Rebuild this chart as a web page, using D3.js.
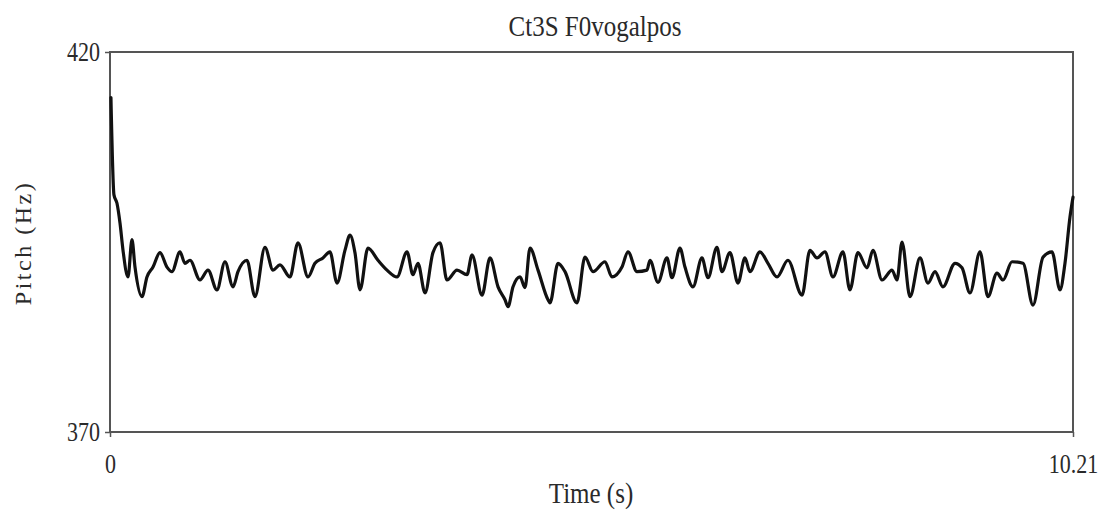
<!DOCTYPE html>
<html>
<head>
<meta charset="utf-8">
<script src="https://cdn.jsdelivr.net/npm/d3@7"></script>
<style>
html,body{margin:0;padding:0;background:#fff;}
svg{display:block;}
text{font-family:"Liberation Serif","Times New Roman",serif;fill:#2a2a2a;}
</style>
</head>
<body>
<svg id="chart" width="1114" height="512"></svg>
<script>
const title = "Ct3S F0vogalpos";
const xLabel = "Time (s)";
const yLabel = "Pitch (Hz)";
const xDomain = [0, 10.21];
const yDomain = [370, 420];
const xTickLabels = ["0", "10.21"];
const yTickLabels = ["370", "420"];

const times = [0.01,0.042,0.074,0.106,0.138,0.191,0.233,0.265,0.339,0.392,0.456,0.530,0.604,0.657,0.742,0.795,0.848,0.954,1.039,1.134,1.219,1.304,1.357,1.452,1.537,1.643,1.728,1.802,1.908,1.993,2.099,2.173,2.258,2.332,2.407,2.491,2.545,2.597,2.651,2.735,2.841,2.937,3.043,3.149,3.212,3.265,3.340,3.424,3.499,3.573,3.679,3.785,3.838,3.944,4.029,4.114,4.188,4.220,4.273,4.347,4.400,4.453,4.538,4.644,4.665,4.750,4.824,4.951,5.036,5.121,5.248,5.322,5.428,5.492,5.587,5.693,5.725,5.810,5.905,5.958,6.043,6.096,6.181,6.276,6.340,6.435,6.488,6.573,6.658,6.732,6.785,6.891,6.976,7.072,7.188,7.337,7.421,7.496,7.580,7.665,7.771,7.845,7.930,8.026,8.089,8.185,8.291,8.344,8.397,8.482,8.588,8.672,8.747,8.831,8.959,9.033,9.118,9.224,9.308,9.404,9.468,9.563,9.680,9.786,9.892,9.987,10.072,10.125,10.178,10.21];
const pitch = [414.0,401.2,400.1,397.5,393.9,390.4,395.3,391.7,387.8,390.4,391.7,393.6,391.7,391.1,393.7,392.2,392.6,390.0,391.3,388.7,392.4,389.1,391.1,392.6,387.8,394.3,391.3,392.0,390.4,394.9,390.4,392.2,392.9,393.7,389.6,393.9,395.9,393.6,388.7,394.2,392.6,391.3,390.4,393.7,390.7,392.2,388.3,393.6,394.9,390.0,391.3,390.7,393.3,388.0,392.9,389.1,387.4,386.5,389.1,390.4,389.0,394.2,391.3,387.4,387.0,392.2,391.1,387.0,393.0,391.1,392.4,390.4,391.7,393.7,391.1,391.3,392.6,389.7,392.9,390.3,394.2,391.7,389.1,392.9,390.3,394.3,391.1,393.6,389.6,392.9,391.1,393.7,392.2,390.4,392.6,388.0,393.9,392.9,393.7,390.4,393.7,388.7,393.6,391.6,393.9,390.0,391.3,390.0,395.0,387.8,392.9,389.6,391.1,389.1,392.2,391.6,388.3,393.7,387.8,390.9,390.0,392.4,392.2,386.7,393.0,393.7,388.7,392.2,398.3,400.9];

const svg = d3.select("#chart");
const m = {left:110, right:1073, top:52, bottom:432};
const x = d3.scaleLinear().domain(xDomain).range([m.left, m.right]);
const y = d3.scaleLinear().domain(yDomain).range([m.bottom, m.top]);

const axisColor = "#555";
svg.append("rect").attr("x", m.left).attr("y", m.top)
  .attr("width", m.right - m.left).attr("height", m.bottom - m.top)
  .attr("fill", "none").attr("stroke", axisColor).attr("stroke-width", 2);

// y axis
const yAxis = d3.axisLeft(y).tickValues(yTickLabels.map(Number)).tickSize(5).tickPadding(5)
  .tickFormat((d,i)=>yTickLabels[i]);
const gy = svg.append("g").attr("transform", `translate(${m.left},0)`).call(yAxis);
gy.select(".domain").remove();
gy.selectAll("line").attr("stroke", axisColor).attr("stroke-width", 1.5);
gy.selectAll("text").style("font-size", "22px").attr("fill", "#2a2a2a")
  .style("font-family", "'Liberation Serif', serif")
  .attr("transform", "scale(1,1.25)");

// x axis
const xAxis = d3.axisBottom(x).tickValues(xTickLabels.map(Number)).tickSize(5).tickPadding(12)
  .tickFormat((d,i)=>xTickLabels[i]);
const gx = svg.append("g").attr("transform", `translate(0,${m.bottom})`).call(xAxis);
gx.select(".domain").remove();
gx.selectAll("line").attr("stroke", axisColor).attr("stroke-width", 1.5);
gx.selectAll("text").style("font-size", "22px").attr("fill", "#2a2a2a")
  .style("font-family", "'Liberation Serif', serif")
  .attr("y", 0).attr("dy", null)
  .attr("transform", "translate(0,41) scale(1,1.25)");

// line
const data = times.map((t,i)=>({t, p: pitch[i]}));
const line = d3.line().x(d=>x(d.t)).y(d=>y(d.p)).curve(d3.curveMonotoneX);
svg.append("path").datum(data).attr("d", line)
  .attr("fill", "none").attr("stroke", "#111").attr("stroke-width", 3.2)
  .attr("stroke-linejoin", "round").attr("stroke-linecap", "round");

// title and labels
svg.append("text").attr("transform", "translate(595,36) scale(1,1.15)").attr("text-anchor", "middle")
  .style("font-size", "25px").text(title);
svg.append("text").attr("transform", "translate(591,503) scale(1,1.15)").attr("text-anchor", "middle")
  .style("font-size", "25px").text(xLabel);
svg.append("text").attr("transform", "translate(31,243) rotate(-90)").attr("text-anchor", "middle")
  .style("font-size", "24px").style("letter-spacing", "2.5px").text(yLabel);
</script>
</body>
</html>
